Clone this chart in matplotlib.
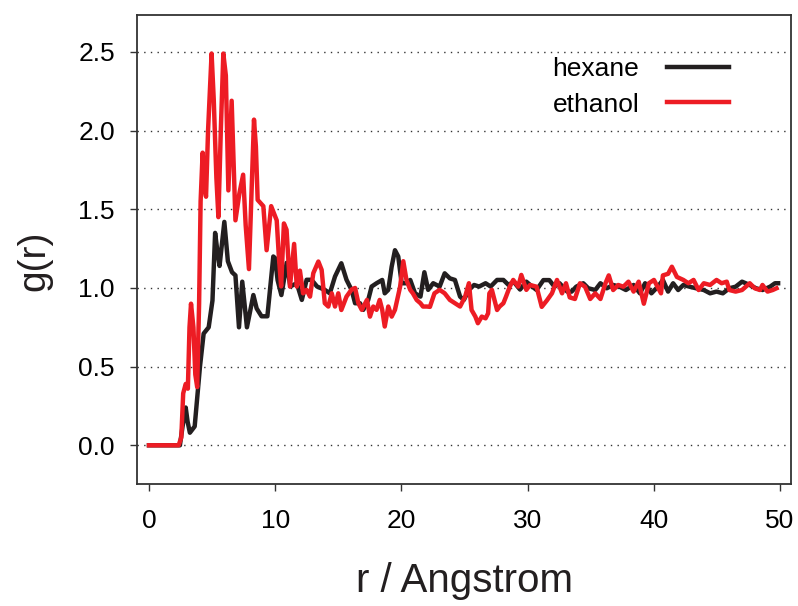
import numpy as np
import matplotlib
matplotlib.use("Agg")
import matplotlib.pyplot as plt

plt.rcParams['font.family'] = ['Liberation Sans', 'DejaVu Sans']

# radial distribution functions
r_hexane = [0.0, 2.45, 2.66, 2.91, 3.06, 3.24, 3.62, 4.04, 4.33, 4.73, 5.03, 5.24,
            5.44, 5.59, 5.97, 6.25, 6.58, 6.85, 7.13, 7.39, 7.76, 8.27, 8.53, 8.92,
            9.38, 9.85, 9.99, 10.19, 10.49, 10.69, 10.91, 11.20, 11.71, 12.11, 12.49,
            12.88, 13.32, 13.93, 14.33, 14.74, 15.24, 15.65, 16.05, 16.33, 16.72,
            16.98, 17.37, 17.64, 18.03, 18.48, 18.68, 18.96, 19.23, 19.49, 19.75,
            20.02, 20.40, 20.70, 21.08, 21.51, 21.82, 22.12, 22.52, 23.03, 23.43, 23.84,
            24.24, 24.65, 24.95, 25.35, 25.76, 26.16, 26.67, 27.07, 27.58, 28.08, 28.49,
            28.89, 29.40, 29.90, 30.19, 30.71, 31.25, 31.72, 32.13, 32.53, 33.14, 33.49,
            33.85, 34.41, 34.81, 35.36, 35.77, 36.27, 36.78, 37.28, 37.79, 38.40, 38.90,
            39.31, 39.81, 40.32, 40.72, 41.13, 41.53, 41.93, 42.34, 42.84, 43.35, 43.96,
            44.46, 44.97, 45.47, 45.98, 46.48, 46.99, 47.60, 48.10, 48.61, 49.21, 49.6,
            49.85]
g_hexane = [0.0, 0.0, 0.12, 0.24, 0.15, 0.08, 0.12, 0.5, 0.71, 0.75, 0.92, 1.35,
            1.22, 1.14, 1.42, 1.17, 1.1, 1.08, 0.75, 1.04, 0.75, 0.955, 0.87, 0.82,
            0.82, 1.2, 1.19, 1.05, 0.955, 1.05, 1.16, 1.01, 1.03, 0.924, 1.052,
            1.052, 1.009, 0.988, 0.966, 1.073, 1.157, 1.052, 0.988, 0.903, 0.903,
            0.861, 0.924, 1.009, 1.03, 1.051, 0.966, 0.988, 1.136, 1.24, 1.2,
            1.03, 1.03, 1.051, 0.966, 0.945, 1.10, 0.988, 1.03, 1.009, 1.093, 1.061,
            1.051, 0.945, 0.924, 0.988, 1.019, 1.009, 1.03, 1.009, 1.051, 1.051, 1.019,
            1.04, 0.99, 1.04, 1.02, 0.987, 1.05, 1.05, 1.008, 1.03, 0.977, 0.977,
            1.008, 1.03, 0.998, 0.987, 1.03, 0.998, 1.019, 1.008, 0.987, 1.019, 0.966,
            1.03, 0.966, 1.008, 1.051, 0.977, 1.03, 0.987, 1.019, 1.008, 0.998, 0.987,
            0.966, 0.977, 0.966, 0.998, 1.008, 1.04, 1.019, 0.998, 0.987, 1.008, 1.03,
            1.03]

r_ethanol = [0.0, 2.35, 2.56, 2.71, 2.91, 3.08, 3.21, 3.33, 3.52, 3.67, 3.82, 3.97,
             4.09, 4.25, 4.43, 4.52, 4.68, 4.96, 5.13, 5.34, 5.50, 5.69, 5.89, 6.09,
             6.29, 6.55, 6.70, 6.85, 7.16, 7.46, 7.66, 7.92, 8.12, 8.32, 8.47, 8.61,
             9.06, 9.32, 9.68, 10.12, 10.29, 10.47, 10.69, 10.90, 11.17, 11.50, 11.71,
             11.96, 12.21, 12.49, 12.76, 13.02, 13.42, 13.68, 13.93, 14.21, 14.48,
             14.74, 15.00, 15.24, 15.65, 16.05, 16.33, 16.59, 16.86, 17.27, 17.51, 17.77,
             18.03, 18.28, 18.48, 18.68, 18.96, 19.23, 19.49, 19.90, 20.15, 20.40, 20.70,
             20.91, 21.21, 21.51, 21.71, 22.02, 22.26, 22.62, 23.03, 23.43, 23.84, 24.24,
             24.65, 25.05, 25.35, 25.56, 25.86, 26.06, 26.37, 26.67, 26.87, 26.97, 27.17,
             27.58, 27.78, 28.08, 28.29, 28.59, 28.86, 29.26, 29.50, 29.90, 30.19, 30.71,
             31.12, 31.52, 31.93, 32.33, 32.73, 33.04, 33.34, 33.75, 34.15, 34.55, 34.96,
             35.36, 35.77, 36.17, 36.43, 36.78, 37.18, 37.59, 37.99, 38.40, 38.80, 39.21,
             39.61, 40.01, 40.57, 40.72, 41.13, 41.43, 41.83, 42.34, 42.74, 43.15, 43.55,
             43.96, 44.46, 44.97, 45.37, 45.78, 45.98, 46.48, 46.99, 47.60, 48.00, 48.41,
             48.61, 49.01, 49.42, 49.72]
g_ethanol = [0.0, 0.0, 0.05, 0.33, 0.39, 0.36, 0.75, 0.9, 0.75, 0.45, 0.37, 0.9,
             1.55, 1.86, 1.62, 1.58, 2.0, 2.49, 2.2, 1.7, 1.45, 2.0, 2.49, 2.35,
             1.62, 2.19, 1.8, 1.43, 1.6, 1.72, 1.4, 1.12, 1.6, 2.07, 1.9, 1.56,
             1.52, 1.24, 1.52, 1.43, 1.2, 1.01, 1.41, 1.37, 1.009, 1.28, 1.009,
             1.11, 0.966, 0.988, 0.945, 1.094, 1.168, 1.115, 0.903, 0.882, 0.966,
             0.882, 0.966, 0.86, 0.945, 0.99, 1.0, 0.903, 0.861, 0.924, 0.818, 0.882,
             0.861, 0.924, 0.861, 0.755, 0.882, 0.818, 0.861, 1.009, 1.17, 1.051, 0.988,
             0.966, 0.924, 0.903, 0.882, 0.882, 0.88, 0.966, 0.988, 0.966, 0.924, 0.903,
             0.882, 0.945, 1.03, 0.86, 0.818, 0.776, 0.818, 0.807, 0.839, 0.966, 0.988,
             0.86, 0.882, 0.903, 0.945, 1.009, 1.051, 1.009, 1.083, 0.988, 1.019, 1.008,
             0.88, 0.92, 0.966, 1.051, 0.966, 1.03, 0.94, 0.93, 1.03, 1.008, 0.93,
             0.966, 0.93, 1.03, 1.08, 0.987, 1.019, 1.008, 1.04, 0.977, 1.04, 0.90,
             1.03, 1.051, 0.966, 1.08, 1.09, 1.135, 1.07, 1.051, 1.03, 1.051, 0.987,
             1.03, 1.019, 1.051, 1.03, 1.04, 0.987, 0.977, 0.987, 1.03, 0.998, 0.987,
             1.019, 0.977, 0.987, 0.998]

fig = plt.figure(figsize=(7.98, 6.06), dpi=100)
ax = fig.add_axes([137/798, 1 - 484/606, 654/798, 469/606])

for y in np.arange(0, 2.51, 0.5):
    ax.axhline(y, color='#333333', lw=1, ls=(0, (1, 3.8)), zorder=0)

ax.plot(r_hexane, g_hexane, color='#231f20', lw=3.2, label='hexane', solid_joinstyle='round')
ax.plot(r_ethanol, g_ethanol, color='#ed1c24', lw=3.2, label='ethanol', solid_joinstyle='round')

ax.set_xlim(-0.95, 50.87)
ax.set_ylim(-0.246, 2.735)
ax.set_xticks([0, 10, 20, 30, 40, 50])
ax.set_yticks([0, 0.5, 1.0, 1.5, 2.0, 2.5])
ax.set_yticklabels(['0.0', '0.5', '1.0', '1.5', '2.0', '2.5'])
ax.tick_params(direction='out', length=5, width=1, labelsize=19, color='#333333')
ax.tick_params(axis='x', pad=13)
ax.tick_params(axis='y', pad=11)
for s in ax.spines.values():
    s.set_linewidth(1.3)
    s.set_color('#333333')

ax.set_xlabel('r / Angstrom', fontsize=29, labelpad=21, color='#231f20')
ax.set_ylabel('g(r)', fontsize=28, color='#231f20')
ax.yaxis.set_label_coords(-0.13, 0.475)

ax.legend(loc='upper right', bbox_to_anchor=(0.905, 0.91), frameon=False,
          markerfirst=False, fontsize=19, handlelength=2.35, handletextpad=1.05,
          labelspacing=0.43, borderaxespad=0, borderpad=0)

fig.savefig('out.png', dpi=100)
